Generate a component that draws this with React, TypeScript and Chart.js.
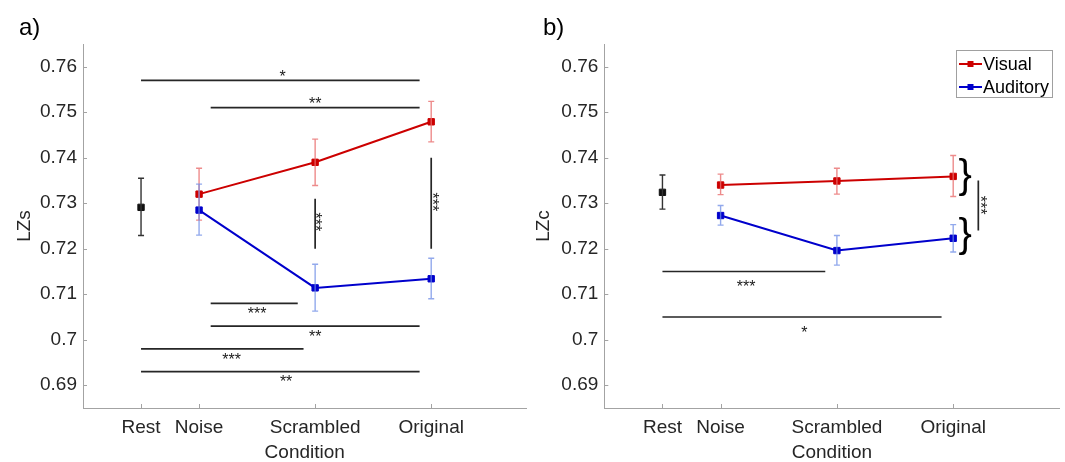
import React, { useEffect, useRef } from 'react';
import { Chart, registerables } from 'chart.js';

Chart.register(...registerables);

const FONT_FAMILY = '"Liberation Sans", Arial, Helvetica, sans-serif';
const TEXT_COLOR = '#262626';
const AXIS_COLOR = '#a3a3a3';
const RED = '#cc0000';
const BLUE = '#0000cc';
const RED_ERR = 'rgba(232, 110, 110, 0.8)';
const BLUE_ERR = 'rgba(110, 140, 230, 0.75)';
const BLACK = '#111111';

// Condition axis
const conditionLabels = ['Rest', 'Noise', 'Scrambled', 'Original'];
const conditionPositions = [0.5, 1, 2, 3];
const stimulusPositions = [1, 2, 3];
const yTickValues = [0.69, 0.7, 0.71, 0.72, 0.73, 0.74, 0.75, 0.76];
const seriesNames = ['Visual', 'Auditory'];

// Panel a: LZs
const lzsRest = [0.7291];
const lzsRestLow = [0.7229];
const lzsRestHigh = [0.7355];
const lzsVisual = [0.7320, 0.7390, 0.7479];
const lzsVisualLow = [0.7263, 0.7339, 0.7435];
const lzsVisualHigh = [0.7377, 0.7441, 0.7524];
const lzsAuditory = [0.7285, 0.7114, 0.7134];
const lzsAuditoryLow = [0.7230, 0.7063, 0.7090];
const lzsAuditoryHigh = [0.7342, 0.7166, 0.7179];

const lzsSigStart = [0.5, 1.1, 1.1, 1.1, 0.5, 0.5];
const lzsSigEnd = [2.9, 2.9, 1.85, 2.9, 1.9, 2.9];
const lzsSigLevel = [0.757, 0.751, 0.708, 0.703, 0.698, 0.693];
const lzsSigText = ['*', '**', '***', '**', '***', '**'];
const lzsSigTextX = [1.72, 2.0, 1.5, 2.0, 1.28, 1.75];
const lzsSigTextY = [0.7587, 0.7527, 0.7065, 0.7015, 0.6964, 0.6916];
const lzsVSigX = [2, 3];
const lzsVSigTop = [0.731, 0.740];
const lzsVSigBottom = [0.720, 0.720];
const lzsVSigText = ['***', '***'];
const lzsVSigTextX = [2.037, 3.043];
const lzsVSigTextY = [0.7259, 0.7303];

// Panel b: LZc
const lzcRest = [0.7324];
const lzcRestLow = [0.7287];
const lzcRestHigh = [0.7362];
const lzcVisual = [0.7340, 0.7349, 0.7359];
const lzcVisualLow = [0.7319, 0.7320, 0.7315];
const lzcVisualHigh = [0.7364, 0.7377, 0.7405];
const lzcAuditory = [0.7273, 0.7196, 0.7223];
const lzcAuditoryLow = [0.7252, 0.7164, 0.7193];
const lzcAuditoryHigh = [0.7295, 0.7229, 0.7253];

const lzcSigStart = [0.5, 0.5];
const lzcSigEnd = [1.9, 2.9];
const lzcSigLevel = [0.715, 0.705];
const lzcSigText = ['***', '*'];
const lzcSigTextX = [1.22, 1.72];
const lzcSigTextY = [0.7124, 0.7024];
const lzcVSigX = [3.216];
const lzcVSigTop = [0.735];
const lzcVSigBottom = [0.724];
const lzcVSigText = ['***'];
const lzcVSigTextX = [3.27];
const lzcVSigTextY = [0.7296];
const lzcBraceX = [3.104, 3.104];
const lzcBraceY = [0.7357, 0.7227];

Chart.defaults.font.family = FONT_FAMILY;

type PanelSpec = {
  letter: string;
  yTitle: string;
  left: number;
  width: number;
  yAxisWidth: number;
  yTitlePad: number;
  xMax: number;
  letterX: number;
  rest: number[]; restLow: number[]; restHigh: number[];
  visual: number[]; visualLow: number[]; visualHigh: number[];
  auditory: number[]; auditoryLow: number[]; auditoryHigh: number[];
  sigStart: number[]; sigEnd: number[]; sigLevel: number[]; sigText: string[]; sigTextX: number[]; sigTextY: number[];
  vSigX: number[]; vSigTop: number[]; vSigBottom: number[]; vSigText: string[]; vSigTextX: number[]; vSigTextY: number[];
  braceX: number[]; braceY: number[];
  legend: boolean;
};

const panelA: PanelSpec = {
  letter: 'a)', yTitle: 'LZs', left: 0, width: 532, yAxisWidth: 83, yTitlePad: 15.5, xMax: 3.821, letterX: 19,
  rest: lzsRest, restLow: lzsRestLow, restHigh: lzsRestHigh,
  visual: lzsVisual, visualLow: lzsVisualLow, visualHigh: lzsVisualHigh,
  auditory: lzsAuditory, auditoryLow: lzsAuditoryLow, auditoryHigh: lzsAuditoryHigh,
  sigStart: lzsSigStart, sigEnd: lzsSigEnd, sigLevel: lzsSigLevel, sigText: lzsSigText, sigTextX: lzsSigTextX, sigTextY: lzsSigTextY,
  vSigX: lzsVSigX, vSigTop: lzsVSigTop, vSigBottom: lzsVSigBottom, vSigText: lzsVSigText, vSigTextX: lzsVSigTextX, vSigTextY: lzsVSigTextY,
  braceX: [], braceY: [],
  legend: false,
};

const panelB: PanelSpec = {
  letter: 'b)', yTitle: 'LZc', left: 533, width: 532, yAxisWidth: 71.3, yTitlePad: 1.5, xMax: 3.914, letterX: 10,
  rest: lzcRest, restLow: lzcRestLow, restHigh: lzcRestHigh,
  visual: lzcVisual, visualLow: lzcVisualLow, visualHigh: lzcVisualHigh,
  auditory: lzcAuditory, auditoryLow: lzcAuditoryLow, auditoryHigh: lzcAuditoryHigh,
  sigStart: lzcSigStart, sigEnd: lzcSigEnd, sigLevel: lzcSigLevel, sigText: lzcSigText, sigTextX: lzcSigTextX, sigTextY: lzcSigTextY,
  vSigX: lzcVSigX, vSigTop: lzcVSigTop, vSigBottom: lzcVSigBottom, vSigText: lzcVSigText, vSigTextX: lzcVSigTextX, vSigTextY: lzcVSigTextY,
  braceX: lzcBraceX, braceY: lzcBraceY,
  legend: true,
};

function buildConfig(p: PanelSpec): any {
  const xy = (xs: number[], ys: number[]) => xs.map((x, i) => ({ x, y: ys[i] }));
  const errors: Record<number, [number[], number[], number[], string]> = {
    0: [stimulusPositions, p.visualLow, p.visualHigh, RED_ERR],
    1: [stimulusPositions, p.auditoryLow, p.auditoryHigh, BLUE_ERR],
    2: [[conditionPositions[0]], p.restLow, p.restHigh, '#333333'],
  };

  const overlay = {
    id: 'overlay',
    afterDatasetDraw(chart: any, args: any) {
      const e = errors[args.index];
      if (!e) return;
      const { ctx } = chart;
      const xs = chart.scales.x;
      const ys = chart.scales.y;
      ctx.save();
      ctx.strokeStyle = e[3];
      ctx.lineWidth = 1.4;
      e[0].forEach((xv, i) => {
        const px = xs.getPixelForValue(xv);
        const pl = ys.getPixelForValue(e[1][i]);
        const ph = ys.getPixelForValue(e[2][i]);
        ctx.beginPath();
        ctx.moveTo(px, pl); ctx.lineTo(px, ph);
        ctx.moveTo(px - 3, pl); ctx.lineTo(px + 3, pl);
        ctx.moveTo(px - 3, ph); ctx.lineTo(px + 3, ph);
        ctx.stroke();
      });
      ctx.restore();
    },
    afterDraw(chart: any) {
      const { ctx, chartArea: a } = chart;
      const xs = chart.scales.x;
      const ys = chart.scales.y;
      const X = (v: number) => xs.getPixelForValue(v);
      const Y = (v: number) => ys.getPixelForValue(v);
      ctx.save();
      // inward tick marks
      ctx.strokeStyle = AXIS_COLOR;
      ctx.lineWidth = 1;
      ctx.beginPath();
      conditionPositions.forEach((v) => {
        const px = Math.round(X(v)) + 0.5;
        ctx.moveTo(px, a.bottom); ctx.lineTo(px, a.bottom - 4);
      });
      yTickValues.forEach((v) => {
        const py = Math.round(Y(v)) + 0.5;
        ctx.moveTo(a.left, py); ctx.lineTo(a.left + 4, py);
      });
      ctx.stroke();

      // significance lines
      const starSize = 16;
      ctx.strokeStyle = '#262626';
      ctx.lineWidth = 1.7;
      ctx.beginPath();
      p.sigLevel.forEach((lv, i) => {
        const py = Y(lv);
        ctx.moveTo(X(p.sigStart[i]), py); ctx.lineTo(X(p.sigEnd[i]), py);
      });
      p.vSigX.forEach((xv, i) => {
        const px = X(xv);
        ctx.moveTo(px, Y(p.vSigTop[i])); ctx.lineTo(px, Y(p.vSigBottom[i]));
      });
      ctx.stroke();

      ctx.fillStyle = '#1a1a1a';
      ctx.font = `${starSize}px ${FONT_FAMILY}`;
      ctx.textAlign = 'center';
      ctx.textBaseline = 'alphabetic';
      p.sigText.forEach((t, i) => {
        ctx.fillText(t, X(p.sigTextX[i]), Y(p.sigTextY[i]) + 0.57 * starSize);
      });
      p.vSigText.forEach((t, i) => {
        ctx.save();
        ctx.translate(X(p.vSigTextX[i]), Y(p.vSigTextY[i]));
        ctx.rotate(Math.PI / 2);
        ctx.fillText(t, 0, 0.57 * starSize);
        ctx.restore();
      });

      // braces
      const braceSize = 40;
      ctx.fillStyle = '#000000';
      ctx.font = `${braceSize}px ${FONT_FAMILY}`;
      p.braceX.forEach((bxv, i) => {
        ctx.fillText('}', X(bxv), Y(p.braceY[i]) + 0.26 * braceSize);
      });

      // legend
      if (p.legend) {
        const bw = 96;
        const bh = 47;
        const bx = Math.round(a.right - 104);
        const by = Math.round(a.top + 6);
        ctx.fillStyle = '#ffffff';
        ctx.fillRect(bx, by, bw, bh);
        ctx.strokeStyle = '#a0a0a0';
        ctx.lineWidth = 1;
        ctx.strokeRect(bx + 0.5, by + 0.5, bw, bh);
        const cols = [RED, BLUE];
        seriesNames.forEach((name, i) => {
          const cy = by + 14 + i * 23;
          ctx.strokeStyle = cols[i];
          ctx.lineWidth = 2;
          ctx.beginPath();
          ctx.moveTo(bx + 3, cy); ctx.lineTo(bx + 26, cy);
          ctx.stroke();
          ctx.fillStyle = cols[i];
          ctx.fillRect(bx + 11.5, cy - 3, 6, 6);
          ctx.fillStyle = '#000000';
          ctx.font = `18px ${FONT_FAMILY}`;
          ctx.textAlign = 'left';
          ctx.textBaseline = 'middle';
          ctx.fillText(name, bx + 27, cy + 1);
        });
      }

      // panel letter
      ctx.fillStyle = '#000000';
      ctx.font = `24px ${FONT_FAMILY}`;
      ctx.textAlign = 'left';
      ctx.textBaseline = 'alphabetic';
      ctx.fillText(p.letter, p.letterX, 35);
      ctx.restore();
    },
  };

  const axisCommon = {
    grid: { display: true, drawOnChartArea: false, drawTicks: false },
    border: { display: true, color: AXIS_COLOR, width: 1 },
  };

  return {
    type: 'scatter',
    data: {
      datasets: [
        {
          label: seriesNames[0],
          data: xy(stimulusPositions, p.visual),
          showLine: true,
          borderColor: RED,
          backgroundColor: RED,
          borderWidth: 2,
          pointStyle: 'rect',
          pointRadius: 4.5,
          pointBorderWidth: 1,
          pointBackgroundColor: RED,
          pointBorderColor: RED,
          order: 2,
        },
        {
          label: seriesNames[1],
          data: xy(stimulusPositions, p.auditory),
          showLine: true,
          borderColor: BLUE,
          backgroundColor: BLUE,
          borderWidth: 2,
          pointStyle: 'rect',
          pointRadius: 4.5,
          pointBorderWidth: 1,
          pointBackgroundColor: BLUE,
          pointBorderColor: BLUE,
          order: 1,
        },
        {
          label: conditionLabels[0],
          data: xy([conditionPositions[0]], p.rest),
          showLine: false,
          borderColor: BLACK,
          backgroundColor: BLACK,
          pointStyle: 'rect',
          pointRadius: 4.5,
          pointBorderWidth: 1,
          pointBackgroundColor: BLACK,
          pointBorderColor: BLACK,
          order: 0,
        },
      ],
    },
    options: {
      responsive: false,
      animation: false,
      events: [],
      layout: { padding: { top: 44, left: 0, right: 0, bottom: 0 } },
      plugins: { legend: { display: false }, tooltip: { enabled: false } },
      scales: {
        x: {
          type: 'linear',
          min: 0,
          max: p.xMax,
          afterFit: (s: any) => { s.height = 54; },
          afterBuildTicks: (s: any) => { s.ticks = conditionPositions.map((v) => ({ value: v })); },
          ticks: {
            autoSkip: false,
            maxRotation: 0,
            minRotation: 0,
            padding: 8,
            color: TEXT_COLOR,
            font: { size: 19 },
            callback: (v: any) => {
              const idx = conditionPositions.indexOf(Number(v));
              return idx >= 0 ? conditionLabels[idx] : '';
            },
          },
          ...axisCommon,
          title: {
            display: true,
            text: 'Condition',
            color: TEXT_COLOR,
            font: { size: 19, lineHeight: 1 },
            padding: { top: 0, bottom: 0 },
          },
        },
        y: {
          type: 'linear',
          min: 0.685,
          max: 0.765,
          afterFit: (s: any) => { s.width = p.yAxisWidth; },
          afterBuildTicks: (s: any) => { s.ticks = yTickValues.map((v) => ({ value: v })); },
          ticks: {
            padding: 6,
            color: TEXT_COLOR,
            font: { size: 19 },
            callback: (v: any) => String(Number(Number(v).toFixed(2))),
          },
          ...axisCommon,
          title: {
            display: true,
            text: p.yTitle,
            color: TEXT_COLOR,
            font: { size: 19, lineHeight: 1 },
            padding: { top: p.yTitlePad, bottom: 0 },
          },
        },
      },
    },
    plugins: [overlay],
  };
}

function Panel({ spec }: { spec: PanelSpec }) {
  const ref = useRef<HTMLCanvasElement>(null);
  useEffect(() => {
    const chart = new Chart(ref.current as HTMLCanvasElement, buildConfig(spec));
    return () => chart.destroy();
  }, [spec]);
  return (
    <canvas
      ref={ref}
      width={spec.width}
      height={462}
      style={{ position: 'absolute', left: spec.left, top: 0, width: spec.width, height: 462 }}
    />
  );
}

export default function App() {
  return (
    <div style={{ position: 'absolute', left: 0, top: 0, width: 1065, height: 462, background: '#ffffff', overflow: 'hidden' }}>
      <Panel spec={panelA} />
      <Panel spec={panelB} />
    </div>
  );
}
